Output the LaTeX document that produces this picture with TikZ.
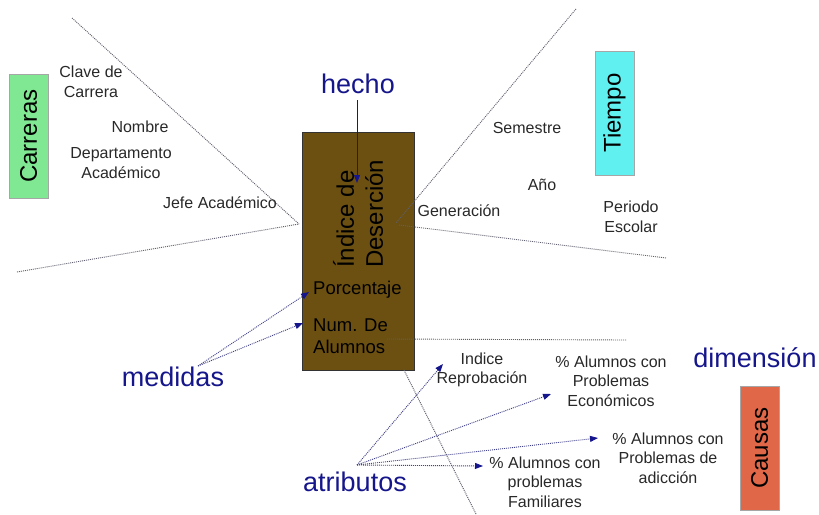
\documentclass[tikz,border=0pt]{standalone}
\usepackage{fontspec}
\setmainfont{Liberation Sans}
\usetikzlibrary{arrows.meta}
\definecolor{navy}{RGB}{22,22,140}
\definecolor{brownbox}{RGB}{108,80,18}
\definecolor{greenbox}{RGB}{128,232,146}
\definecolor{cyanbox}{RGB}{96,240,240}
\definecolor{orangebox}{RGB}{224,104,72}
\definecolor{txt}{RGB}{40,40,40}
\definecolor{dotgray}{RGB}{95,95,110}
\tikzset{
  small/.style={font=\fontsize{16}{19.5}\selectfont, text=txt, align=center, inner sep=0pt},
  inbox/.style={font=\fontsize{18.5}{22}\selectfont, text=black, align=left, inner sep=0pt},
  biglabel/.style={font=\fontsize{27}{30}\selectfont, text=navy, inner sep=0pt},
  dimbox/.style={draw=gray!70, line width=0.6pt, minimum width=39pt, minimum height=124pt, inner sep=0pt},
  boxtext/.style={font=\fontsize{24}{26}\selectfont, text=black, rotate=90},
  dotline/.style={draw=dotgray, line width=0.9pt, dash pattern=on 1pt off 1pt},
  navyarrow/.style={draw=navy!60!gray, line width=0.9pt, dash pattern=on 1pt off 1pt, -{Triangle[length=8pt,width=6pt,color=navy]}},
}
\begin{document}
\begin{tikzpicture}[x=1pt,y=-1pt]
\useasboundingbox (0,0) rectangle (819,514);

% dotted dimension boundary lines
\coordinate (c1) at (72,18);
\coordinate (c2) at (17,272);
\coordinate (cc) at (299,224);
\coordinate (t1) at (576,9);
\coordinate (tc) at (396,223);
\coordinate (t2) at (666,258);
\coordinate (tc2) at (399,225);
\coordinate (k1) at (387,339);
\coordinate (k2) at (626,340);
\coordinate (k3) at (404,370);
\coordinate (k4) at (476,514);

% fact box
\node[draw=black!80, line width=0.8pt, fill=brownbox, minimum width=112pt, minimum height=238pt, inner sep=0pt] (fact) at (358,251) {};

\draw[dotline] (c1) -- (cc);
\draw[dotline] (c2) -- (cc);
\draw[dotline] (t1) -- (tc);
\draw[dotline] (tc2) -- (t2);
\draw[dotline] (k1) -- (k2);
\draw[dotline] (k3) -- (k4);

% fact texts
\node[font=\fontsize{24}{29}\selectfont, rotate=90, align=left, inner sep=0pt, anchor=west] (ind) at (358,268) {Índice de\\Deserción};
\node[inbox, anchor=west] (porc) at (313,290) {Porcentaje};
\node[inbox, anchor=west] (num) at (313,336) {Num. De\\Alumnos};

% dimension boxes
\node[dimbox, fill=greenbox] (carr) at (28.5,136) {};
\node[boxtext] at (carr) {Carreras};
\node[dimbox, fill=cyanbox] (tiem) at (614.5,113) {};
\node[boxtext] at (tiem) {Tiempo};
\node[dimbox, fill=orangebox] (caus) at (759.5,448) {};
\node[boxtext] at (caus) {Causas};

% blue labels
\node[biglabel] (hecho) at (358,84) {hecho};
\node[biglabel] (dim) at (755,358) {dimensión};
\node[biglabel] (med) at (173,377) {medidas};
\node[biglabel] (atr) at (355,482) {atributos};

% attribute texts
\node[small] (clave) at (91,82) {Clave de\\Carrera};
\node[small] (nom) at (140,127) {Nombre};
\node[small] (depto) at (121,163) {Departamento\\Académico};
\node[small] (jefe) at (220,203) {Jefe Académico};
\node[small] (sem) at (527,128) {Semestre};
\node[small] (anio) at (542,185) {Año};
\node[small] (gen) at (459,211) {Generación};
\node[small] (per) at (631,217) {Periodo\\Escolar};
\node[small] (irep) at (482,370) {Indice\\Reprobación};
\node[small] (econ) at (611,381) {\% Alumnos con\\Problemas\\Económicos};
\node[small] (adic) at (668,458) {\% Alumnos con\\Problemas de\\adicción};
\node[small] (fam) at (545,482) {\% Alumnos con\\problemas\\Familiares};

% arrow targets and sources
\coordinate (hstart) at (357,100);
\coordinate (hend) at (357,183);
\coordinate (mo) at (198,366);
\coordinate (mporc) at (309,292);
\coordinate (mnum) at (303,323);
\coordinate (ao) at (357,465);
\coordinate (airep) at (443,364);
\coordinate (aecon) at (551,394);
\coordinate (aadic) at (598,438);
\coordinate (afam) at (483,466);

\draw[navy, line width=1pt, -{Triangle[length=8pt,width=6pt]}] (hstart) -- (hend);
\draw[navyarrow] (mo) -- (mporc);
\draw[navyarrow] (mo) -- (mnum);
\draw[navyarrow] (ao) -- (airep);
\draw[navyarrow] (ao) -- (aecon);
\draw[navyarrow] (ao) -- (aadic);
\draw[navyarrow] (ao) -- (afam);
\end{tikzpicture}
\end{document}
